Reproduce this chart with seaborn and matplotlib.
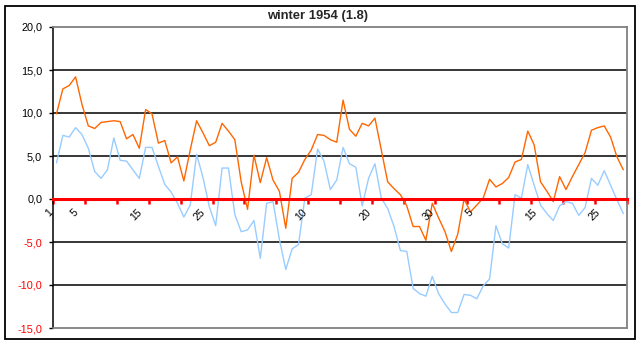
import numpy as np
import pandas as pd
import matplotlib
matplotlib.use("Agg")
import matplotlib.pyplot as plt
from matplotlib.patches import Rectangle
from matplotlib.ticker import FixedLocator, FuncFormatter
import seaborn as sns

# ---------------- data ----------------
title = "winter 1954 (1.8)"
series_max = [9.9, 12.8, 13.2, 14.2, 11.0, 8.5, 8.2, 8.9, 9.0, 9.1,
              9.0, 7.0, 7.5, 5.9, 10.4, 9.9, 6.5, 6.8, 4.2, 4.9,
              2.1, 5.7, 9.1, 7.7, 6.2, 6.6, 8.8, 7.9, 6.9, 2.0,
              -1.2, 5.1, 1.9, 4.8, 2.2, 0.9, -3.4, 2.4, 3.1, 4.6,
              5.7, 7.5, 7.4, 6.9, 6.6, 11.5, 8.1, 7.3, 8.8, 8.5,
              9.4, 5.7, 2.0, 1.2, 0.5, -0.8, -3.2, -3.2, -4.8, -0.5,
              -2.2, -3.8, -6.1, -4.1, 0.0, -1.5, -0.7, 0.1, 2.3, 1.4,
              1.8, 2.5, 4.3, 4.6, 7.9, 6.3, 2.0, 0.9, -0.3, 2.6,
              1.1, 2.6, 4.0, 5.4, 8.0, 8.3, 8.5, 7.2, 4.9, 3.4]
series_min = [4.2, 7.4, 7.2, 8.3, 7.5, 5.9, 3.2, 2.4, 3.4, 7.1,
              4.5, 4.4, 3.4, 2.4, 6.0, 6.0, 3.8, 1.7, 0.8, -0.5,
              -2.1, -0.7, 5.2, 2.5, -0.9, -3.1, 3.6, 3.6, -1.8, -3.8,
              -3.6, -2.5, -6.9, -0.5, -0.3, -4.7, -8.2, -5.8, -5.3, 0.1,
              0.5, 5.8, 4.4, 1.1, 2.2, 6.0, 4.1, 3.7, -0.8, 2.4,
              4.1, 0.1, -1.1, -3.2, -6.0, -6.1, -10.4, -11.0, -11.3, -9.0,
              -11.0, -12.2, -13.2, -13.2, -11.1, -11.2, -11.6, -10.1, -9.3, -3.1,
              -5.2, -5.7, 0.5, 0.1, 4.0, 1.6, -0.7, -1.7, -2.5, -0.8,
              -0.3, -0.5, -1.9, -1.0, 2.4, 1.6, 3.3, 1.6, -0.1, -1.7]
day_index = list(range(len(series_max)))          # Dec 1 .. Feb 28
label_index = [0, 4, 14, 24, 40, 50, 60, 66, 76, 86]
label_text = ["1", "5", "15", "25", "10", "20", "30", "5", "15", "25"]
y_ticks = [-15, -10, -5, 0, 5, 10, 15, 20]

# ---------------- style ----------------
sns.set_style("white")
plt.rcParams["font.family"] = ["Liberation Sans", "DejaVu Sans"]

W, H = 642, 344
fig = plt.figure(figsize=(W / 100, H / 100), dpi=100)
fig.patch.set_facecolor("white")

left, right, top, bottom = 53.3, 626.5, 27.0, 328.0
ax = fig.add_axes([left / W, 1 - bottom / H, (right - left) / W, (bottom - top) / H])

df = pd.DataFrame({
    "x": [i + 0.5 for i in day_index] * 2,
    "val": series_max + series_min,
    "series": ["max"] * len(series_max) + ["min"] * len(series_min),
})
sns.lineplot(data=df, x="x", y="val", hue="series",
             palette={"max": "#FF6600", "min": "#99CCFF"},
             linewidth=1.0, legend=False, ax=ax, zorder=3)

ax.set_xlim(0, len(day_index))
ax.set_ylim(-15, 20)
ax.set_xlabel("")
ax.set_ylabel("")

# horizontal gridlines
for v in y_ticks:
    if -15 < v < 20 and v != 0:
        ax.axhline(v, color="black", lw=1.1, zorder=1)

# y axis
ax.yaxis.set_major_locator(FixedLocator(y_ticks))
ax.yaxis.set_major_formatter(FuncFormatter(lambda v, p: f"{v:.1f}".replace(".", ",")))
ax.tick_params(axis="y", left=True, direction="out", length=3, width=1,
               color="black", pad=5, labelsize=7.8)
for lab, v in zip(ax.get_yticklabels(), y_ticks):
    lab.set_color("red" if v < 0 else "black")

# spines
ax.spines["left"].set_color("black")
ax.spines["left"].set_linewidth(1.1)
ax.spines["top"].set_color("#808080")
ax.spines["right"].set_color("#808080")
ax.spines["top"].set_linewidth(1.3)
ax.spines["right"].set_linewidth(1.3)
ax.spines["bottom"].set_position(("data", 0))
ax.spines["bottom"].set_color("red")
ax.spines["bottom"].set_linewidth(2.2)
ax.spines["bottom"].set_zorder(4)
ax.axhline(-15, color="#808080", lw=1.3, zorder=4, clip_on=False)

# x axis ticks: every 5 categories
ax.xaxis.set_major_locator(FixedLocator(list(range(0, len(day_index) + 1, 5))))
ax.set_xticklabels([])
ax.tick_params(axis="x", bottom=True, direction="out", length=3.5, width=1.8,
               color="red")

for i, t in zip(label_index, label_text):
    ax.annotate(t, xy=(i + 0.5, 0), xytext=(-4, -8.5), textcoords="offset points",
                rotation=45, rotation_mode="anchor", ha="right", va="center",
                fontsize=7.6, color="black", annotation_clip=False)

fig.text(317.5 / W, 1 - 16 / H, title, ha="center", va="center",
         fontsize=9.4, fontweight="bold")

# outer chart frame
fig.patches.append(Rectangle((5.5 / W, 1 - 338.5 / H), 629.5 / W, 333 / H,
                             transform=fig.transFigure, fill=False,
                             edgecolor="black", lw=1.3))

fig.savefig("out.png", dpi=100)
